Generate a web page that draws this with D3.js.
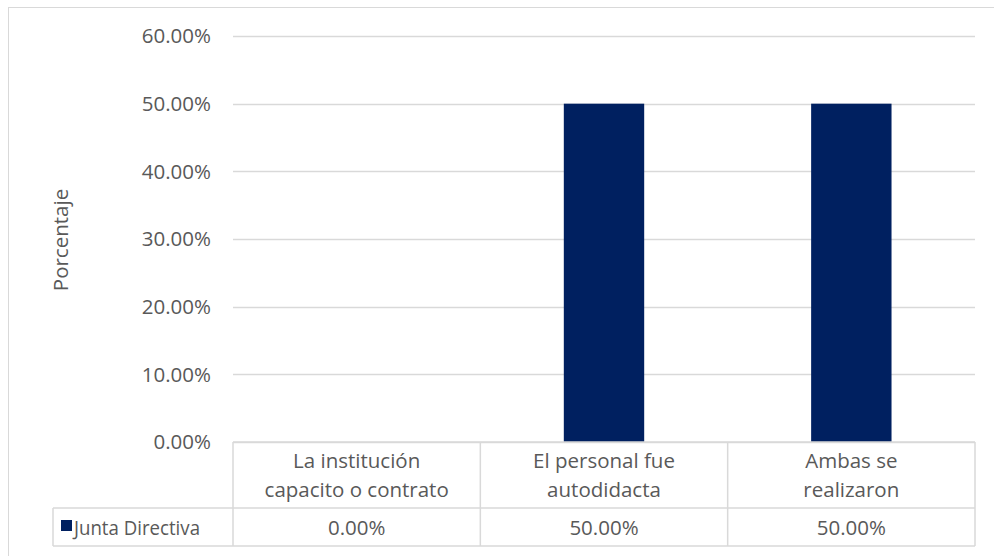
<!DOCTYPE html>
<html><head><meta charset="utf-8">
<script src="https://cdn.jsdelivr.net/npm/d3@7"></script>
<style>body{margin:0;background:#fff}svg{display:block}text{font-family:"Open Sans",sans-serif;fill:#595959}</style>
</head><body><svg id="c" width="994" height="556"></svg>
<script>
const categories = [["La institución","capacito o contrato"],["El personal fue","autodidacta"],["Ambas se","realizaron"]];
const seriesName = "Junta Directiva";
const values = [0.0, 0.5, 0.5];
const yTicks = [0,0.1,0.2,0.3,0.4,0.5,0.6];

const svg = d3.select("#c");
const L=233, R=975, T=36, B=442;
const FS=20.5;
const x = d3.scaleBand().domain(d3.range(categories.length)).range([L,R]).paddingInner(0.675).paddingOuter(0.3375);
const y = d3.scaleLinear().domain([0,0.6]).range([B,T]);
const fmt = d => (d*100).toFixed(2)+"%";
const grid="#d9d9d9";

svg.append("rect").attr("x",8.5).attr("y",7.5).attr("width",990).attr("height",560).attr("fill","none").attr("stroke",grid);

// grid
svg.append("g").selectAll("line").data(yTicks).join("line")
 .attr("x1",L).attr("x2",R).attr("y1",d=>Math.round(y(d))+0.5).attr("y2",d=>Math.round(y(d))+0.5)
 .attr("stroke",grid).attr("stroke-width",1.3);
svg.append("g").selectAll("text").data(yTicks).join("text")
 .attr("x",211).attr("y",d=>y(d)).attr("dy","0.35em").attr("text-anchor","end").attr("font-size",FS).text(fmt);

svg.append("text").attr("transform","translate(68,240) rotate(-90)").attr("text-anchor","middle").attr("font-size",FS).text("Porcentaje");

// bars
svg.append("g").selectAll("rect").data(values).join("rect")
 .attr("x",(d,i)=>x(i)).attr("width",x.bandwidth()).attr("y",d=>y(d)).attr("height",d=>B-y(d)).attr("fill","#002060");

// table
const colEdges = [L].concat(d3.range(categories.length).map(i=>L+(R-L)*(i+1)/categories.length));
const rowTop=442, rowMid=508, rowBot=546, legL=53;
const tg = svg.append("g").attr("stroke",grid).attr("stroke-width",1.5);
tg.append("line").attr("x1",L).attr("x2",R).attr("y1",rowTop).attr("y2",rowTop);
tg.append("line").attr("x1",legL).attr("x2",R).attr("y1",rowMid).attr("y2",rowMid);
tg.append("line").attr("x1",legL).attr("x2",R).attr("y1",rowBot).attr("y2",rowBot);
tg.append("line").attr("x1",legL).attr("x2",legL).attr("y1",rowMid).attr("y2",rowBot);
tg.selectAll(".v").data(colEdges).join("line").attr("x1",d=>d).attr("x2",d=>d).attr("y1",rowTop).attr("y2",rowBot);

const cw=(R-L)/categories.length;
categories.forEach((c,i)=>{
  const cx=L+cw*(i+0.5);
  c.forEach((line,j)=>{
    svg.append("text").attr("x",cx).attr("y",468+j*29).attr("text-anchor","middle").attr("font-size",FS).text(line);
  });
  svg.append("text").attr("x",cx).attr("y",535).attr("text-anchor","middle").attr("font-size",FS).text(fmt(values[i]));
});
svg.append("rect").attr("x",61).attr("y",520).attr("width",11).attr("height",11).attr("fill","#002060");
svg.append("text").attr("x",74).attr("y",535).attr("font-size",FS).attr("textLength",126).attr("lengthAdjust","spacingAndGlyphs").text(seriesName);
</script></body></html>
